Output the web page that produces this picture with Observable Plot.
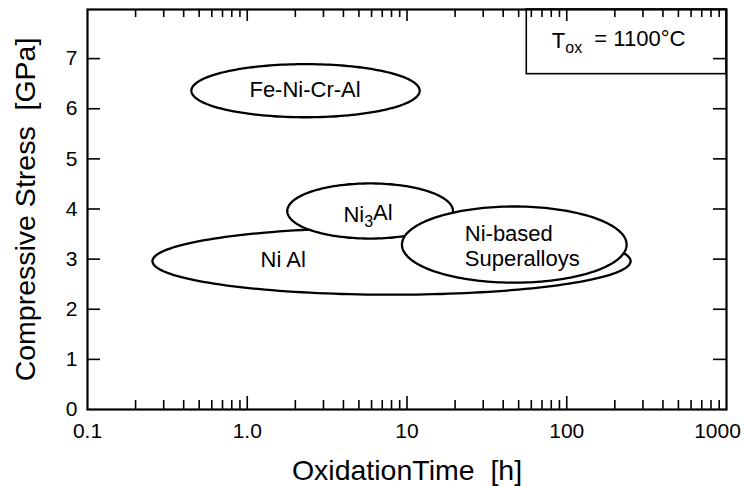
<!DOCTYPE html>
<html>
<head>
<meta charset="utf-8">
<script src="https://cdn.jsdelivr.net/npm/d3@7"></script>
<script src="https://cdn.jsdelivr.net/npm/@observablehq/plot@0.6"></script>
<style>
  html, body { margin: 0; padding: 0; background: #fff; }
  #chart svg { display: block; }
</style>
</head>
<body>
<div id="chart"></div>
<script>
// ---- Data ----
// Regions (ellipses) described by their extents: time [h] (log axis) and stress [GPa]
const regionNames   = ["Fe-Ni-Cr-Al", "Ni Al", "Ni3Al", "Ni-based Superalloys"];
const regionTimeMin = [0.447, 0.255, 1.78, 9.3];
const regionTimeMax = [12.0, 251, 19.4, 237];
const regionStressMin = [5.83, 2.29, 3.41, 2.53];
const regionStressMax = [6.89, 3.63, 4.51, 4.05];

// Label texts and positions (data coordinates)
const labelTexts  = ["Fe-Ni-Cr-Al", "Ni3Al", "Ni Al", "Ni-based\nSuperalloys"];
const labelTimes  = [2.30, 5.70, 1.68, 23.0];
const labelStress = [6.38, 3.88, 2.99, 3.28];
const labelAnchor = ["middle", "middle", "middle", "start"];

const legendText = "Tox = 1100°C";

// Axes
const xMajorTicks  = [0.1, 1, 10, 100, 1000];
const xMajorLabels = ["0.1", "1.0", "10", "100", "1000"];
const xInnerMajor  = [1, 10, 100];
const xMinorTicks  = [0.2,0.3,0.4,0.5,0.6,0.7,0.8,0.9, 2,3,4,5,6,7,8,9, 20,30,40,50,60,70,80,90, 200,300,400,500,600,700,800,900];
const yTicks = [0, 1, 2, 3, 4, 5, 6, 7];

const xTitle = "OxidationTime  [h]";
const yTitle = "Compressive Stress  [GPa]";

// ---- Layout ----
const W = 744, H = 486;
const mL = 87, mR = 18, mT = 9, mB = 77;
const plotW = W - mL - mR, plotH = H - mT - mB;

// Build outline points for each region from its extents (ellipse in log-time space)
function outline(i) {
  const l0 = Math.log10(regionTimeMin[i]), l1 = Math.log10(regionTimeMax[i]);
  const lc = (l0 + l1) / 2, lr = (l1 - l0) / 2;
  const sc = (regionStressMin[i] + regionStressMax[i]) / 2;
  const sr = (regionStressMax[i] - regionStressMin[i]) / 2;
  const pts = [];
  const N = 180;
  for (let k = 0; k < N; k++) {
    const a = (2 * Math.PI * k) / N;
    pts.push({t: Math.pow(10, lc + lr * Math.cos(a)), s: sc + sr * Math.sin(a), name: regionNames[i]});
  }
  return pts;
}

const labels = labelTexts.map((t, i) => ({text: t, t: labelTimes[i], s: labelStress[i], anchor: labelAnchor[i]}));
const xLabels = xMajorTicks.map((v, i) => ({v, text: xMajorLabels[i]}));

const font = "'Liberation Sans', Arial, Helvetica, sans-serif";

const marks = [];
// Ellipses, in drawing order
regionNames.forEach((n, i) => {
  marks.push(Plot.line(outline(i), {x: "t", y: "s", curve: "linear-closed", fill: "white", stroke: "black", strokeWidth: 2.3}));
});
// Region labels
marks.push(Plot.text(labels.filter(d => d.anchor === "middle"), {x: "t", y: "s", text: "text", fontSize: 22, fill: "black", textAnchor: "middle"}));
marks.push(Plot.text(labels.filter(d => d.anchor === "start"), {x: "t", y: "s", text: "text", fontSize: 22, fill: "black", textAnchor: "start", lineHeight: 1.14}));

// Legend box
marks.push(Plot.rect([{x1: 56.2, x2: 1000, y1: 6.69, y2: 7.98}], {x1: "x1", x2: "x2", y1: "y1", y2: "y2", fill: "white", stroke: "black", strokeWidth: 1.6}));
marks.push(Plot.text([legendText], {x: () => 211, y: () => 7.35, text: d => d, fontSize: 22, fill: "black"}));

// Ticks (inward)
marks.push(Plot.ruleX(xInnerMajor, {x: d => d, insetTop: plotH - 13, strokeWidth: 1.6}));
marks.push(Plot.ruleX(xMinorTicks, {x: d => d, insetTop: plotH - 9, strokeWidth: 1.6}));
marks.push(Plot.ruleX(xInnerMajor, {x: d => d, insetBottom: plotH - 12, strokeWidth: 1.6}));
marks.push(Plot.ruleX(xMinorTicks, {x: d => d, insetBottom: plotH - 8, strokeWidth: 1.6}));
marks.push(Plot.ruleY(yTicks.slice(1), {y: d => d, insetRight: plotW - 13, strokeWidth: 1.6}));
marks.push(Plot.ruleY(yTicks.slice(1), {y: d => d, insetLeft: plotW - 13, strokeWidth: 1.6}));

// Tick labels (the last one is nudged left so it stays inside the picture)
const xLabelsInner = xLabels.slice(0, 4);
const xLabelsLast = xLabels.slice(4);
marks.push(Plot.text(xLabelsInner, {x: "v", frameAnchor: "bottom", dy: 22, text: "text", fontSize: 21, fill: "black", textAnchor: "middle", lineAnchor: "middle"}));
marks.push(Plot.text(xLabelsLast, {x: "v", frameAnchor: "bottom", dy: 22, dx: -9, text: "text", fontSize: 21, fill: "black", textAnchor: "middle", lineAnchor: "middle"}));
marks.push(Plot.axisY({ticks: yTicks, tickFormat: d => String(d), tickSize: 0, tickPadding: 10, fontSize: 21, label: null}));

// Axis titles
marks.push(Plot.text([xTitle], {frameAnchor: "bottom", dy: 61, text: d => d, fontSize: 28.5, fill: "black", textAnchor: "middle", lineAnchor: "middle"}));
marks.push(Plot.text([yTitle], {frameAnchor: "left", dx: -62, rotate: -90, text: d => d, fontSize: 28.5, fill: "black", textAnchor: "middle", lineAnchor: "middle"}));

// Frame
marks.push(Plot.frame({stroke: "black", strokeWidth: 2.2}));

const chart = Plot.plot({
  width: W, height: H,
  marginLeft: mL, marginRight: mR, marginTop: mT, marginBottom: mB,
  style: {fontFamily: font, background: "white", color: "black", overflow: "visible"},
  x: {type: "log", domain: [0.1, 1000], axis: null},
  y: {domain: [0, 7.98]},
  marks
});

// Subscripts for Ni3Al and T_ox
d3.select(chart).selectAll("text").each(function() {
  const el = d3.select(this);
  const txt = el.text();
  if (txt === "Ni3Al") {
    el.text(null);
    el.append("tspan").text("Ni");
    el.append("tspan").attr("dy", "0.3em").attr("font-size", "16").text("3");
    el.append("tspan").attr("dy", "-0.3em").text("Al");
  } else if (txt === legendText) {
    el.text(null);
    el.append("tspan").text("T");
    el.append("tspan").attr("dy", "0.32em").attr("font-size", "16").text("ox");
    el.append("tspan").attr("dy", "-0.32em").text("  = 1100°C");
  }
});

document.getElementById("chart").appendChild(chart);
</script>
</body>
</html>
